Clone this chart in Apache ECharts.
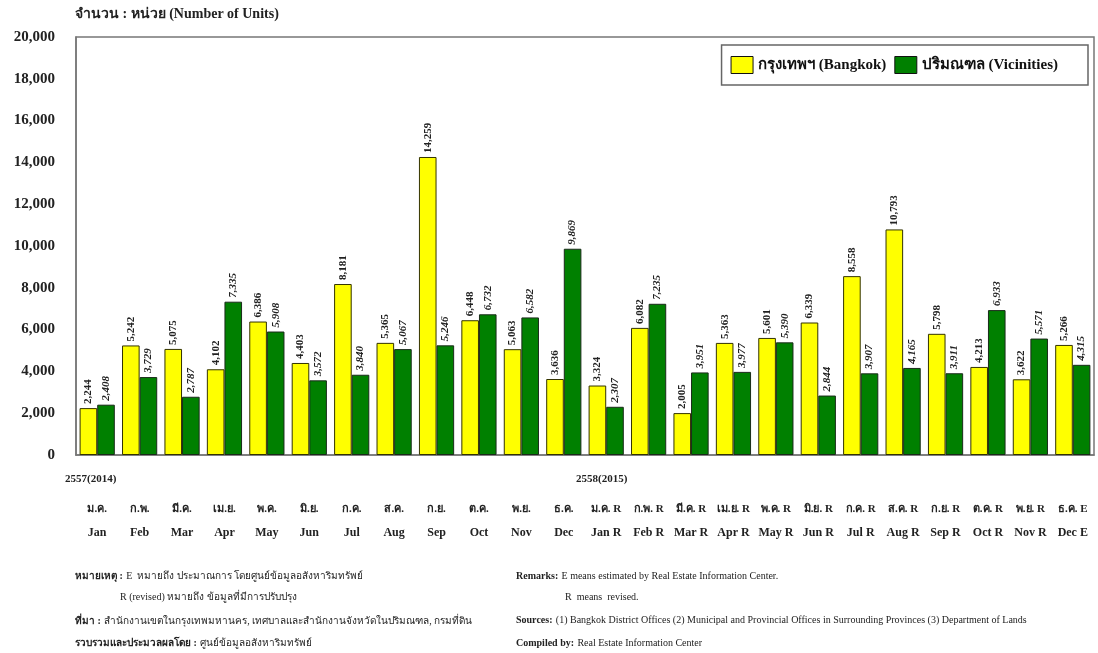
<!DOCTYPE html>
<html>
<head>
<meta charset="utf-8">
<script src="https://cdn.jsdelivr.net/npm/echarts@6/dist/echarts.min.js"></script>
<style>
html,body{margin:0;padding:0;background:#fff;}
#c{width:1098px;height:653px;}
</style>
</head>
<body>
<div id="c"></div>
<script>
const thaiMonths = ['ม.ค.','ก.พ.','มี.ค.','เม.ย.','พ.ค.','มิ.ย.','ก.ค.','ส.ค.','ก.ย.','ต.ค.','พ.ย.','ธ.ค.',
  'ม.ค. R','ก.พ. R','มี.ค. R','เม.ย. R','พ.ค. R','มิ.ย. R','ก.ค. R','ส.ค. R','ก.ย. R','ต.ค. R','พ.ย. R','ธ.ค. E'];
const engMonths = ['Jan','Feb','Mar','Apr','May','Jun','Jul','Aug','Sep','Oct','Nov','Dec',
  'Jan R','Feb R','Mar R','Apr R','May R','Jun R','Jul R','Aug R','Sep R','Oct R','Nov R','Dec E'];
const bangkok = [2244,5242,5075,4102,6386,4403,8181,5365,14259,6448,5063,3636,
  3324,6082,2005,5363,5601,6339,8558,10793,5798,4213,3622,5266];
const vicinities = [2408,3729,2787,7335,5908,3572,3840,5067,5246,6732,6582,9869,
  2307,7235,3951,3977,5390,2844,3907,4165,3911,6933,5571,4315];
const yTicks = [0,2000,4000,6000,8000,10000,12000,14000,16000,18000,20000];
const seriesNames = ['กรุงเทพฯ (Bangkok)','ปริมณฑล (Vicinities)'];
const yearLabels = ['2557(2014)','2558(2015)'];

const serif = '"Liberation Serif","Times New Roman",serif';
const categories = thaiMonths.map((t,i)=>i);
const fmt = v => v.toLocaleString('en-US');

const chart = echarts.init(document.getElementById('c'));
chart.setOption({
  backgroundColor:'#fff',
  animation:false,
  textStyle:{fontFamily:serif},
  grid:{left:76,right:4,top:37,bottom:198,show:true,borderColor:'#777',borderWidth:1.5},
  legend:{
    right:10, top:45, icon:'rect',
    itemWidth:22,itemHeight:17,itemGap:8,
    itemStyle:{borderColor:'#111',borderWidth:1},
    borderColor:'#666',borderWidth:1.5,padding:[11,30,11,9],
    textStyle:{fontFamily:serif,fontWeight:'bold',fontSize:15,color:'#111'},
    data:seriesNames
  },
  xAxis:{
    type:'category',data:categories,
    axisLine:{lineStyle:{color:'#777',width:1.5}},
    axisTick:{show:false},
    axisLabel:{
      interval:0,margin:42,
      formatter:(v,i)=>'{th|'+thaiMonths[i]+'}\n{en|'+engMonths[i]+'}',
      rich:{
        th:{fontFamily:serif,fontWeight:'bold',fontSize:11,color:'#222',lineHeight:24},
        en:{fontFamily:serif,fontWeight:'bold',fontSize:12,color:'#222',lineHeight:24}
      }
    }
  },
  yAxis:{
    type:'value',min:0,max:20000,interval:2000,
    axisLine:{show:true,lineStyle:{color:'#777',width:1.5}},
    axisTick:{show:false},splitLine:{show:false},
    axisLabel:{margin:21,fontFamily:serif,fontWeight:'bold',fontSize:15,color:'#222',
      formatter:v=>fmt(v)}
  },
  series:[
    {name:seriesNames[0],type:'bar',data:bangkok,barGap:'0%',barCategoryGap:'17%',
     itemStyle:{color:'#ffff00',borderColor:'#333300',borderWidth:1},
     label:{show:true,position:'top',rotate:90,align:'left',verticalAlign:'middle',distance:4,
       fontFamily:serif,fontWeight:'bold',fontSize:11,color:'#222',formatter:p=>fmt(p.value)}},
    {name:seriesNames[1],type:'bar',data:vicinities,
     itemStyle:{color:'#008000',borderColor:'#1a2a1a',borderWidth:1},
     label:{show:true,position:'top',rotate:90,align:'left',verticalAlign:'middle',distance:4,
       fontFamily:serif,fontWeight:'bold',fontStyle:'italic',fontSize:11,color:'#222',formatter:p=>fmt(p.value)}}
  ],
  graphic:[
    {type:'text',left:75,top:7,style:{text:'จำนวน : หน่วย (Number of Units)',font:'bold 14px '+serif,fill:'#222'}},
    {type:'text',left:65,top:474,style:{text:yearLabels[0],font:'bold 11px '+serif,fill:'#222'}},
    {type:'text',left:576,top:474,style:{text:yearLabels[1],font:'bold 11px '+serif,fill:'#222'}},
    {type:'text',left:75,top:570,style:{
      rich:{b:{fontFamily:serif,fontWeight:'bold',fontSize:10,fill:'#222'},n:{fontFamily:serif,fontSize:10,fill:'#222'}},
      text:'{b|หมายเหตุ :} {n|E  หมายถึง ประมาณการ โดยศูนย์ข้อมูลอสังหาริมทรัพย์}'}},
    {type:'text',left:120,top:592,style:{text:'R (revised) หมายถึง ข้อมูลที่มีการปรับปรุง',font:'10px '+serif,fill:'#222'}},
    {type:'text',left:75,top:615,style:{
      rich:{b:{fontFamily:serif,fontWeight:'bold',fontSize:10,fill:'#222'},n:{fontFamily:serif,fontSize:10,fill:'#222'}},
      text:'{b|ที่มา :} {n|สำนักงานเขตในกรุงเทพมหานคร, เทศบาลและสำนักงานจังหวัดในปริมณฑล, กรมที่ดิน}'}},
    {type:'text',left:75,top:637,style:{
      rich:{b:{fontFamily:serif,fontWeight:'bold',fontSize:10,fill:'#222'},n:{fontFamily:serif,fontSize:10,fill:'#222'}},
      text:'{b|รวบรวมและประมวลผลโดย :} {n|ศูนย์ข้อมูลอสังหาริมทรัพย์}'}},
    {type:'text',left:516,top:570,style:{
      rich:{b:{fontFamily:serif,fontWeight:'bold',fontSize:10,fill:'#222'},n:{fontFamily:serif,fontSize:10,fill:'#222'}},
      text:'{b|Remarks:} {n|E means estimated by Real Estate Information Center.}'}},
    {type:'text',left:565,top:592,style:{text:'R  means  revised.',font:'10px '+serif,fill:'#222'}},
    {type:'text',left:516,top:614,style:{
      rich:{b:{fontFamily:serif,fontWeight:'bold',fontSize:10,fill:'#222'},n:{fontFamily:serif,fontSize:10,fill:'#222'}},
      text:'{b|Sources:} {n|(1) Bangkok District Offices (2) Municipal and Provincial Offices in Surrounding Provinces (3) Department of Lands}'}},
    {type:'text',left:516,top:637,style:{
      rich:{b:{fontFamily:serif,fontWeight:'bold',fontSize:10,fill:'#222'},n:{fontFamily:serif,fontSize:10,fill:'#222'}},
      text:'{b|Compiled by:} {n|Real Estate Information Center}'}}
  ]
});
</script>
</body>
</html>
